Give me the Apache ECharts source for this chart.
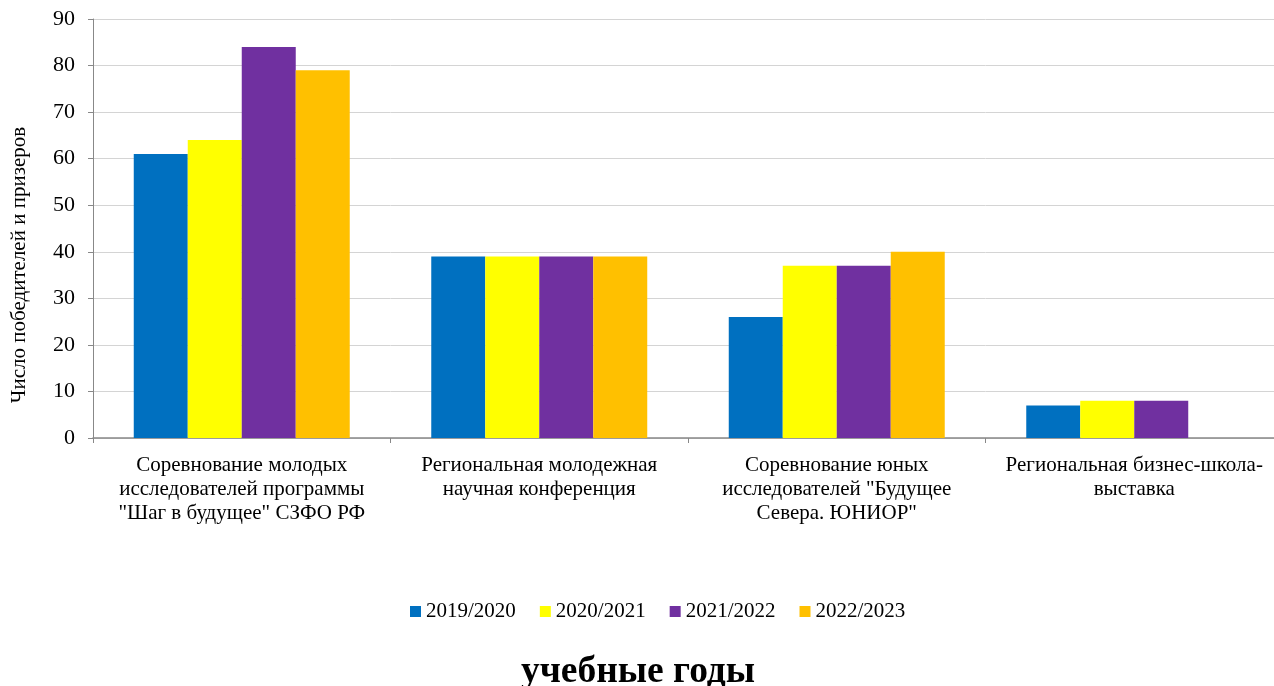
<!DOCTYPE html>
<html><head><meta charset="utf-8">
<script src="https://cdn.jsdelivr.net/npm/echarts@6/dist/echarts.min.js"></script>
<style>html,body{margin:0;padding:0;background:#fff;overflow:hidden;width:1274px;height:686px}#c{width:1283px;height:686px}</style>
</head><body><div id="c"></div>
<script>
const categories = [
  'Соревнование молодых\nисследователей программы\n"Шаг в будущее" СЗФО РФ',
  'Региональная молодежная\nнаучная конференция',
  'Соревнование юных\nисследователей "Будущее\nСевера. ЮНИОР"',
  'Региональная бизнес-школа-\nвыставка'
];
const seriesNames = ['2019/2020', '2020/2021', '2021/2022', '2022/2023'];
const s2019 = [61, 39, 26, 7];
const s2020 = [64, 39, 37, 8];
const s2021 = [84, 39, 37, 8];
const s2022 = [79, 39, 40, null];
const colors = ['#0070C0', '#FFFF00', '#7030A0', '#FFC000'];
const yTicks = { min: 0, max: 90, interval: 10 };
const font = '"Liberation Serif","Times New Roman",serif';

const chart = echarts.init(document.getElementById('c'));
const data = [s2019, s2020, s2021, s2022];
chart.setOption({
  animation: false,
  textStyle: { fontFamily: font },
  grid: { left: 93, right: 0, top: 19, bottom: 248 },
  legend: {
    top: 596, left: 405,
    itemWidth: 11, itemHeight: 11, itemGap: 24,
    icon: 'rect',
    textStyle: { fontFamily: font, fontSize: 21, color: '#000' },
    data: seriesNames
  },
  graphic: [
    { type: 'text', x: 638, y: 672, style: { text: 'учебные годы', font: 'bold 37.5px ' + font, fill: '#000', textAlign: 'center', textVerticalAlign: 'middle' } },
    { type: 'text', x: 19, y: 265, rotation: Math.PI / 2, style: { text: 'Число победителей и призеров', font: '21px ' + font, fill: '#000', textAlign: 'center', textVerticalAlign: 'middle' } }
  ],
  xAxis: {
    type: 'category', data: categories,
    axisLine: { lineStyle: { color: '#888', width: 1.5 } },
    axisTick: { show: true, length: 5, lineStyle: { color: '#888' } },
    axisLabel: { fontFamily: font, fontSize: 21, color: '#000', lineHeight: 24, margin: 15, interval: 0 }
  },
  yAxis: {
    type: 'value', min: yTicks.min, max: yTicks.max, interval: yTicks.interval,
    axisLine: { show: true, lineStyle: { color: '#888' } },
    axisTick: { show: true, length: 5, lineStyle: { color: '#888' } },
    splitLine: { lineStyle: { color: '#d4d4d4' } },
    axisLabel: { fontFamily: font, fontSize: 22, color: '#000', margin: 18 }
  },
  series: seriesNames.map((n, i) => ({
    name: n, type: 'bar', data: data[i],
    barGap: '0%', barCategoryGap: '27.4%',
    itemStyle: { color: colors[i] }
  }))
});
</script></body></html>
